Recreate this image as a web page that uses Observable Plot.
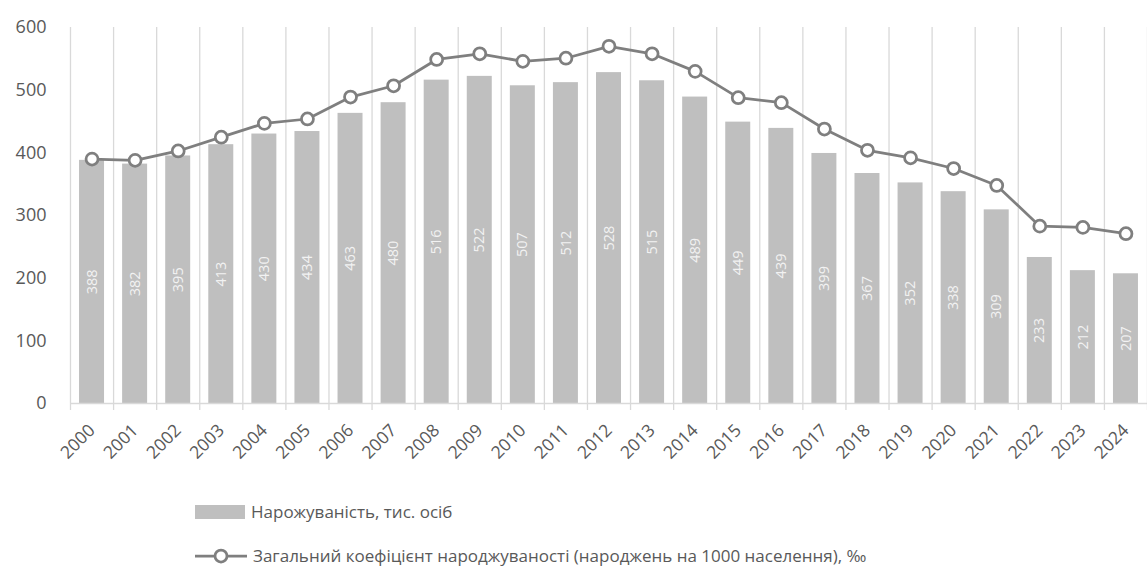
<!DOCTYPE html>
<html><head><meta charset="utf-8">
<script src="https://cdn.jsdelivr.net/npm/d3@7"></script>
<script src="https://cdn.jsdelivr.net/npm/@observablehq/plot@0.6"></script>
<style>
body{margin:0;background:#fff;font-family:"Open Sans",sans-serif;}
#wrap{position:relative;width:1147px;height:566px;overflow:hidden;background:#fff;}
.leg{position:absolute;left:195px;display:flex;align-items:center;font-size:17px;line-height:26px;color:#595959;white-space:nowrap;}
.leg svg{margin-right:6px;flex:none;}
</style></head><body>
<div id="wrap"><div id="chart"></div>
<div class="leg" id="leg1" style="top:499px"></div>
<div class="leg" id="leg2" style="top:543px"></div>
</div>
<script>
const years = [2000,2001,2002,2003,2004,2005,2006,2007,2008,2009,2010,2011,2012,2013,2014,2015,2016,2017,2018,2019,2020,2021,2022,2023,2024];
const births = [388,382,395,413,430,434,463,480,516,522,507,512,528,515,489,449,439,399,367,352,338,309,233,212,207];
const rate = [390,388,403,425,447,454,489,507,549,558,546,551,570,558,530,488,480,438,404,392,375,348,283,281,271];
const yTicks = [0,100,200,300,400,500,600];
const seriesNames = ["Нарожуваність, тис. осіб", "Загальний коефіцієнт народжуваності (народжень на 1000 населення), ‰"];

const data = years.map((year, i) => ({year, births: births[i], rate: rate[i]}));
const bounds = [...years.map(y => y - 0.5), years[years.length - 1] + 0.5];

const barColor = "#bfbfbf", lineColor = "#7f7f7f", gridColor = "#d9d9d9", textColor = "#595959";

const chart = Plot.plot({
  width: 1147, height: 480,
  marginLeft: 70, marginRight: 0, marginTop: 27, marginBottom: 77,
  style: {fontFamily: "Open Sans", color: textColor, background: "#fff", overflow: "visible"},
  x: {domain: [years[0] - 0.5, years[years.length - 1] + 0.5], label: null},
  y: {domain: [0, 600], label: null},
  marks: [
    Plot.gridX(bounds, {stroke: gridColor, strokeOpacity: 1, strokeWidth: 1.3}),
    Plot.rectY(data, {x1: d => d.year - 0.29, x2: d => d.year + 0.29, y: "births", fill: barColor}),
    Plot.ruleY([0], {stroke: gridColor, strokeWidth: 1.3}),
    Plot.axisX(bounds, {tickSize: 7, tickFormat: () => "", label: null, stroke: gridColor, strokeWidth: 1.3}),
    Plot.axisX(years, {tickSize: 0, tickPadding: 24, tickRotate: -45, fontSize: 17.5, label: null, tickFormat: d => String(d), dx: 0, fill: textColor}),
    Plot.axisY(yTicks, {tickSize: 0, tickPadding: 24, fontSize: 18, label: null, fill: textColor}),
    Plot.text(data, {x: "year", y: d => d.births / 2, text: d => String(d.births), rotate: -90, fill: "#f2f2f2", fontSize: 14.5}),
    Plot.line(data, {x: "year", y: "rate", stroke: lineColor, strokeWidth: 2.75}),
    Plot.dot(data, {x: "year", y: "rate", r: 6, fill: "white", stroke: lineColor, strokeWidth: 2.75})
  ]
});
document.getElementById("chart").appendChild(chart);

document.getElementById("leg1").innerHTML =
  `<svg width="50" height="14"><rect x="0" y="0" width="50" height="14" fill="${barColor}"/></svg><span>${seriesNames[0]}</span>`;
document.getElementById("leg2").innerHTML =
  `<svg width="52" height="18"><line x1="0" y1="9" x2="52" y2="9" stroke="${lineColor}" stroke-width="2.75"/><circle cx="26" cy="9" r="6" fill="white" stroke="${lineColor}" stroke-width="2.75"/></svg><span>${seriesNames[1]}</span>`;
</script>
</body></html>
